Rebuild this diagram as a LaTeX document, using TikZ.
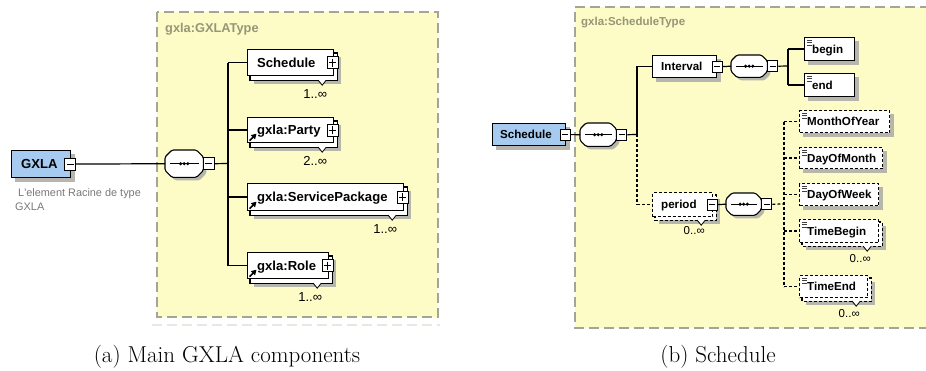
\documentclass[tikz,border=0pt]{standalone}
\usepackage{fontspec}
\newfontfamily\xsd{Liberation Sans}
\usetikzlibrary{calc,arrows.meta}
\pgfdeclarelayer{panel}
\pgfdeclarelayer{shad}
\pgfdeclarelayer{copy}
\pgfsetlayers{panel,shad,copy,main}

\definecolor{panelyellow}{RGB}{253,251,198}
\definecolor{panelgray}{RGB}{165,165,150}
\definecolor{titlegray}{RGB}{150,150,120}
\definecolor{rootblue}{RGB}{166,202,240}
\definecolor{shadowc}{RGB}{182,182,172}
\definecolor{descgray}{RGB}{120,120,120}
\definecolor{faintline}{RGB}{232,232,224}

\tikzset{
  boxline/.style={draw=black, fill=white, line width=1.2pt},
  optline/.style={boxline, dash pattern=on 3pt off 2pt},
  elem/.style={boxline, rectangle, inner sep=0pt, anchor=north west},
  optelem/.style={elem, dash pattern=on 3pt off 2pt},
  rootelem/.style={elem, fill=rootblue},
  seqnode/.style={rectangle, inner sep=0pt, anchor=north west},
  seqline/.style={draw=black, fill=white, line width=1.1pt, rounded corners=1.5pt},
  pmbox/.style={draw=black, fill=white, line width=0.9pt, inner sep=0pt},
  pmL/.style={pmbox, minimum width=11pt, minimum height=12pt},
  pmR/.style={pmbox, minimum width=10pt, minimum height=11pt},
  pmsign/.style={line width=0.9pt},
  link/.style={line width=1.2pt},
  optlink/.style={link, dash pattern=on 3pt off 2pt},
  notch/.style={draw=black, fill=white, line width=0.8pt},
  refarrow/.style={line width=1.6pt, -{Triangle[length=5pt,width=5.5pt]}},
  simplemk/.style={line width=0.6pt, black!75},
  lblL/.style={inner sep=0pt, anchor=base west, font=\xsd\bfseries\fontsize{13.1}{15}\selectfont},
  lblR/.style={inner sep=0pt, anchor=base west, font=\xsd\bfseries\fontsize{11.6}{14}\selectfont},
  multL/.style={inner sep=0pt, font=\xsd\fontsize{13}{15}\selectfont},
  multR/.style={inner sep=0pt, font=\xsd\fontsize{11.5}{14}\selectfont},
  paneltitle/.style={inner sep=0pt, anchor=base west, text=titlegray},
  panelborder/.style={draw=panelgray, line width=1.4pt, dash pattern=on 10pt off 5pt},
  desc/.style={inner sep=0pt, anchor=base west, text=descgray, font=\xsd\fontsize{10.9}{14}\selectfont},
  caption/.style={inner sep=0pt, anchor=base, font=\fontsize{23}{27}\selectfont},
}

% drop shadow behind a single element box
\newcommand\shadowof[1]{%
  \begin{pgfonlayer}{shad}
    \fill[shadowc] ($(#1.north west)+(4,4)$) rectangle ($(#1.south east)+(4,4)$);
  \end{pgfonlayer}}
% stacked copy (repeated element) with its shadow
\newcommand\stackof[3]{%
  \begin{pgfonlayer}{shad}
    \fill[shadowc] ($(#1.north west)+(#3)+(4,4)$) rectangle ($(#1.south east)+(#3)+(4,4)$);
  \end{pgfonlayer}
  \begin{pgfonlayer}{copy}
    \path[#2] ($(#1.north west)+(#3)$) rectangle ($(#1.south east)+(#3)$);
  \end{pgfonlayer}}
% occurrence notch and cardinality label
\newcommand\multof[5]{%
  \path[notch] ($(#1.south east)+(-16,#2)$) -- ++(4,5) -- ++(4,-5);
  \node[#4] (#1mult) at ($(#1.south east)+(-19,#2+#3)$) {#5};}
% expand / collapse buttons
\newcommand\pmminus[3]{%
  \node[#3] (#1) at (#2) {};
  \draw[pmsign] ($(#1.west)+(2.5,0)$) -- ($(#1.east)+(-2.5,0)$);}
\newcommand\pmplus[3]{%
  \pmminus{#1}{#2}{#3}
  \draw[pmsign] ($(#1.north)+(0,2.5)$) -- ($(#1.south)+(0,-2.5)$);}
% reference arrow and simple-type marks
\newcommand\refmark[1]{%
  \draw[refarrow] ($(#1.south west)+(2.5,-2.5)$) -- ++(7,-7);}
\newcommand\simplemark[1]{%
  \draw[simplemk] ($(#1.north west)+(3,3)$) -- ++(5,0)
                  ($(#1.north west)+(3,5.5)$) -- ++(5,0)
                  ($(#1.north west)+(3,8)$) -- ++(5,0);}
% sequence compositor outline
\newcommand\seqoutline[4]{%
  \path[#4] ($(#1.north west)+(#2,0)+(#3)$) -- ($(#1.north east)+(-#2,0)+(#3)$)
    -- ($(#1.north east)+(0,#2)+(#3)$) -- ($(#1.south east)+(0,-#2)+(#3)$)
    -- ($(#1.south east)+(-#2,0)+(#3)$) -- ($(#1.south west)+(#2,0)+(#3)$)
    -- ($(#1.south west)+(0,-#2)+(#3)$) -- ($(#1.north west)+(0,#2)+(#3)$) -- cycle;}
\newcommand\seqgroup[5]{%
  \node[seqnode, minimum width=#3pt, minimum height=#4pt] (#1) at (#2) {};
  \begin{pgfonlayer}{shad}
    \seqoutline{#1}{#5}{3,3}{fill=shadowc, rounded corners=1.5pt}
  \end{pgfonlayer}
  \seqoutline{#1}{#5}{0,0}{seqline}
  \draw[link] ($(#1.west)+(5,0)$) -- ($(#1.east)+(-4,0)$);
  \foreach \d in {-3.6,0,3.6} \fill ($(#1.center)+(\d,0)$) circle (1.7);}

\begin{document}
\begin{tikzpicture}[x=1pt,y=-1pt]
\useasboundingbox (0,0) rectangle (926,371);

% complex type panels
\begin{pgfonlayer}{panel}
  \fill[panelyellow] (157,12) rectangle (438,317);
  \draw[panelborder] (157,12) rectangle (438,317);
  \draw[faintline, line width=1.2pt, dash pattern=on 10pt off 5pt] (152,325) -- (440,325);
  \fill[panelyellow] (575,7) rectangle (930,328);
  \draw[panelborder] (930,7) -- (575,7) -- (575,328) -- (930,328);
\end{pgfonlayer}
\node[paneltitle, font=\xsd\bfseries\fontsize{12.8}{15}\selectfont] (titleA) at (165,33) {gxla:GXLAType};
\node[paneltitle, font=\xsd\bfseries\fontsize{11.5}{14}\selectfont] (titleB) at (581,26) {gxla:ScheduleType};

% ---------- GXLA root ----------
\node[rootelem, minimum width=59pt, minimum height=27pt] (gxla) at (11,150) {};
\shadowof{gxla}
\node[lblL] (gxlaT) at ($(gxla.west)+(10,4.7)$) {GXLA};
\pmminus{gxlaM}{$(gxla.east)+(-1,0)$}{pmL}
\node[desc] (descA) at (18,197) {L'element Racine de type};
\node[desc] (descB) at (15,211) {GXLA};

\seqgroup{seqA}{165,150}{38}{27}{7}
\pmminus{seqAM}{$(seqA.east)+(5.5,0)$}{pmL}
\coordinate (busA) at (228,163.5);

\node[elem, minimum width=86pt, minimum height=26pt] (sched) at (247,49) {};
\stackof{sched}{boxline}{3,4}
\node[lblL] (schedT) at ($(sched.west)+(10,4.7)$) {Schedule};
\pmplus{schedP}{$(sched.east)+(-1.5,0)$}{pmL}
\multof{sched}{4}{14}{multL}{1..∞}

\node[elem, minimum width=86pt, minimum height=25pt] (party) at (247,117) {};
\stackof{party}{boxline}{3,4}
\node[lblL] (partyT) at ($(party.west)+(10,4.7)$) {gxla:Party};
\refmark{party}
\pmplus{partyP}{$(party.east)+(-1.5,0)$}{pmL}
\multof{party}{4}{14}{multL}{2..∞}

\node[elem, minimum width=156pt, minimum height=27pt] (svc) at (247,183) {};
\stackof{svc}{boxline}{3,4}
\node[lblL] (svcT) at ($(svc.west)+(10,4.7)$) {gxla:ServicePackage};
\refmark{svc}
\pmplus{svcP}{$(svc.east)+(-1.5,0)$}{pmL}
\multof{svc}{4}{14}{multL}{1..∞}

\node[elem, minimum width=81pt, minimum height=26pt] (role) at (247,252) {};
\stackof{role}{boxline}{3,4}
\node[lblL] (roleT) at ($(role.west)+(10,4.7)$) {gxla:Role};
\refmark{role}
\pmplus{roleP}{$(role.east)+(-1.5,0)$}{pmL}
\multof{role}{4}{14}{multL}{1..∞}

\draw[link] (gxlaM.east) -- (seqA.west);
\draw[link] (seqAM.east) -- (busA);
\draw[link] (busA |- sched.west) -- (busA |- role.west);
\foreach \n in {sched,party,svc,role} \draw[link] (busA |- \n.west) -- (\n.west);

% ---------- Schedule type ----------
\node[rootelem, minimum width=73pt, minimum height=22pt] (schB) at (492,123) {};
\shadowof{schB}
\node[lblR] (schBT) at ($(schB.west)+(8,4.2)$) {Schedule};
\pmminus{schBM}{$(schB.east)+(-1,0)$}{pmR}
\seqgroup{seqB}{580,123}{36}{23}{6}
\pmminus{seqBM}{$(seqB.east)+(5.5,0)$}{pmR}
\coordinate (busB) at (637,134.5);

\node[elem, minimum width=64pt, minimum height=22pt] (intv) at (652,55) {};
\shadowof{intv}
\node[lblR] (intvT) at ($(intv.west)+(9,4.2)$) {Interval};
\pmminus{intvM}{$(intv.east)+(0,0)$}{pmR}
\seqgroup{seqC}{731,55}{36}{22}{6}
\pmminus{seqCM}{$(seqC.east)+(5.5,0)$}{pmR}
\coordinate (busC) at (788,66);

\node[elem, minimum width=50pt, minimum height=23pt] (beg) at (804,37) {};
\shadowof{beg}
\simplemark{beg}
\node[lblR] (begT) at ($(beg.west)+(8,4.2)$) {begin};
\node[elem, minimum width=50pt, minimum height=23pt] (endn) at (804,73) {};
\shadowof{endn}
\simplemark{endn}
\node[lblR] (endT) at ($(endn.west)+(8,4.2)$) {end};

\node[optelem, minimum width=60pt, minimum height=24pt] (per) at (652,192) {};
\stackof{per}{optline}{3,3}
\node[lblR] (perT) at ($(per.west)+(9,4.2)$) {period};
\pmminus{perM}{$(per.east)+(-1,0)$}{pmR}
\multof{per}{3}{10}{multR}{0..∞}
\seqgroup{seqD}{726,193}{35}{22}{6}
\pmminus{seqDM}{$(seqD.east)+(5.5,0)$}{pmR}
\coordinate (busD) at (784,204);

\node[optelem, minimum width=90pt, minimum height=22pt] (moy) at (799,110) {};
\shadowof{moy}
\simplemark{moy}
\node[lblR] (moyT) at ($(moy.west)+(8,4.2)$) {MonthOfYear};
\node[optelem, minimum width=83pt, minimum height=21pt] (dom) at (799,147) {};
\shadowof{dom}
\simplemark{dom}
\node[lblR] (domT) at ($(dom.west)+(8,4.2)$) {DayOfMonth};
\node[optelem, minimum width=79pt, minimum height=22pt] (dow) at (799,183) {};
\shadowof{dow}
\simplemark{dow}
\node[lblR] (dowT) at ($(dow.west)+(8,4.2)$) {DayOfWeek};
\node[optelem, minimum width=79pt, minimum height=23pt] (tb) at (799,219) {};
\stackof{tb}{optline}{3,3}
\simplemark{tb}
\node[lblR] (tbT) at ($(tb.west)+(8,4.2)$) {TimeBegin};
\multof{tb}{3}{12}{multR}{0..∞}
\node[optelem, minimum width=68pt, minimum height=22pt] (te) at (799,275) {};
\stackof{te}{optline}{3,3}
\simplemark{te}
\node[lblR] (teT) at ($(te.west)+(8,4.2)$) {TimeEnd};
\multof{te}{3}{12}{multR}{0..∞}

\draw[link] (schBM.east) -- (seqB.west);
\draw[link] (seqBM.east) -- (busB);
\draw[link] (busB) -- (busB |- intv.west) -- (intv.west);
\draw[optlink] (busB) -- (busB |- per.west) -- (per.west);
\draw[link] (intvM.east) -- (seqC.west);
\draw[link] (seqCM.east) -- (busC);
\draw[link] (busC |- beg.west) -- (busC |- endn.west);
\foreach \n in {beg,endn} \draw[link] (busC |- \n.west) -- (\n.west);
\draw[link] (perM.east) -- (seqD.west);
\draw[optlink] (seqDM.east) -- (busD);
\draw[optlink] (busD |- moy.west) -- (busD |- te.west);
\foreach \n in {moy,dom,dow,tb,te} \draw[optlink] (busD |- \n.west) -- (\n.west);

% captions
\node[caption] (capA) at (227,362) {(a) Main GXLA components};
\node[caption] (capB) at (718,362) {(b) Schedule};
\end{tikzpicture}
\end{document}
